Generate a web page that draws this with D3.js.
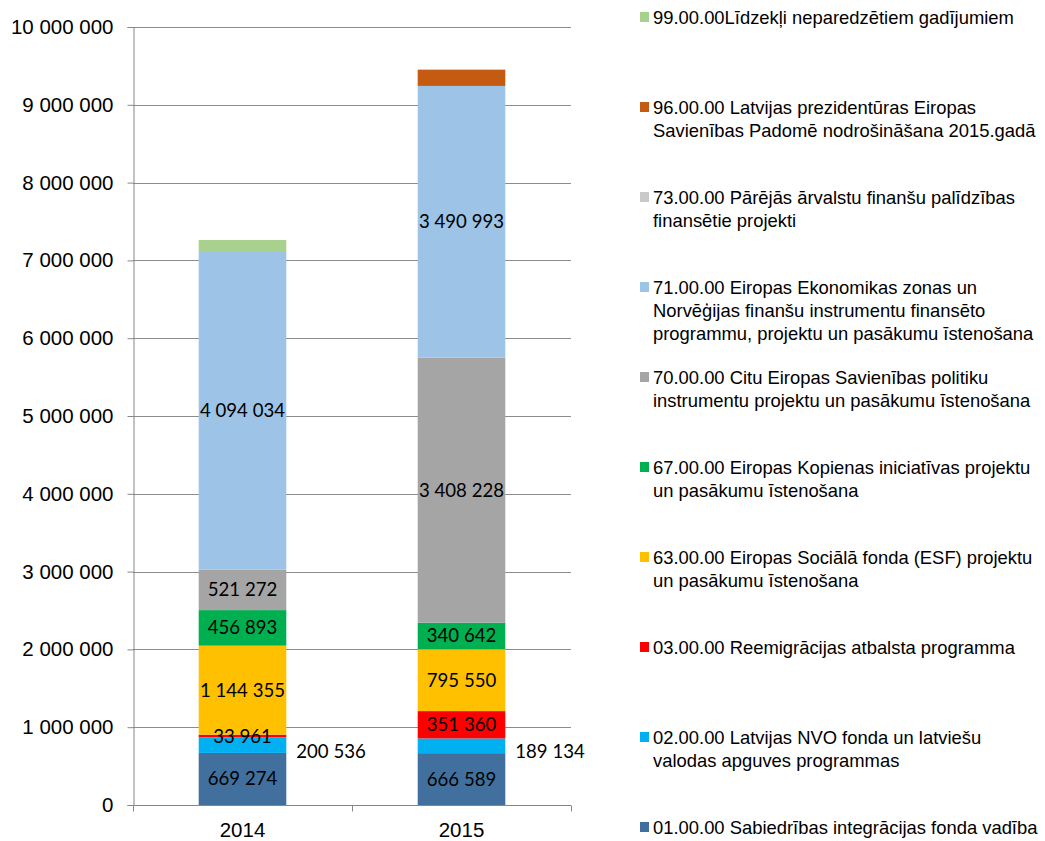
<!DOCTYPE html>
<html><head><meta charset="utf-8">
<script src="https://d3js.org/d3.v7.min.js"></script>
<style>body{margin:0;background:#fff}svg{display:block}</style>
</head><body><svg id="c" width="1045" height="841"></svg>
<script>
const years = ["2014", "2015"];
const seriesCodes = ["01", "02", "03", "63", "67", "70", "71", "73", "96", "99"];
const legendLines = [
  ["01.00.00 Sabiedrības integrācijas fonda vadība"],
  ["02.00.00 Latvijas NVO fonda un latviešu", "valodas apguves programmas"],
  ["03.00.00 Reemigrācijas atbalsta programma"],
  ["63.00.00 Eiropas Sociālā fonda (ESF) projektu", "un pasākumu īstenošana"],
  ["67.00.00 Eiropas Kopienas iniciatīvas projektu", "un pasākumu īstenošana"],
  ["70.00.00 Citu Eiropas Savienības politiku", "instrumentu projektu un pasākumu īstenošana"],
  ["71.00.00 Eiropas Ekonomikas zonas un", "Norvēģijas finanšu instrumentu finansēto", "programmu, projektu un pasākumu īstenošana"],
  ["73.00.00 Pārējās ārvalstu finanšu palīdzības", "finansētie projekti"],
  ["96.00.00 Latvijas prezidentūras Eiropas", "Savienības Padomē nodrošināšana 2015.gadā"],
  ["99.00.00Līdzekļi neparedzētiem gadījumiem"]
];
const values2014 = [669274, 200536, 33961, 1144355, 456893, 521272, 4094034, 0, 0, 142000];
const values2015 = [666589, 189134, 351360, 795550, 340642, 3408228, 3490993, 0, 205000, 10000];
const showLabel = [true, true, true, true, true, true, true, false, false, false];
const labelOutside = [false, true, false, false, false, false, false, false, false, false];
const colors = ["#41709E", "#00B0F0", "#FF0000", "#FFC000", "#00B050", "#A5A5A5", "#9DC3E6", "#C9C9C9", "#C55A11", "#A9D18E"];
const yTicks = [0, 1000000, 2000000, 3000000, 4000000, 5000000, 6000000, 7000000, 8000000, 9000000, 10000000];

const loc = d3.formatLocale({decimal: ",", thousands: " ", grouping: [3], currency: ["", ""]});
const fmt = loc.format(",d");

const svg = d3.select("#c");
const x0 = 133, x1 = 571, yTop = 27, yBot = 805;
const x = d3.scaleBand().domain(years).range([x0, x1]).paddingInner(0).paddingOuter(0);
const y = d3.scaleLinear().domain([0, 10000000]).range([yBot, yTop]);
const barW = x.bandwidth() * 0.4;

const rows = years.map((yr, i) => {
  const vals = i === 0 ? values2014 : values2015;
  const r = {year: yr};
  seriesCodes.forEach((c, j) => r[c] = vals[j]);
  return r;
});
const stack = d3.stack().keys(seriesCodes)(rows);

// gridlines
svg.append("g").selectAll("line").data(yTicks.slice(1)).join("line")
  .attr("x1", x0).attr("x2", x1)
  .attr("y1", d => Math.round(y(d)) + 0.5).attr("y2", d => Math.round(y(d)) + 0.5)
  .attr("stroke", "#8c8c8c").attr("stroke-width", 1);

// bars
const gBars = svg.append("g");
stack.forEach((layer, j) => {
  gBars.selectAll(null).data(layer).join("rect")
    .attr("x", d => x(d.data.year) + (x.bandwidth() - barW) / 2)
    .attr("width", barW)
    .attr("y", d => y(d[1]))
    .attr("height", d => Math.max(0, y(d[0]) - y(d[1])))
    .attr("fill", colors[j]);
});

// labels
const gLab = svg.append("g").attr("font-family", "Lato, 'Open Sans', sans-serif").attr("font-size", 18.6).attr("fill", "#000");
stack.forEach((layer, j) => {
  if (!showLabel[j]) return;
  layer.forEach(d => {
    const v = d[1] - d[0];
    if (v <= 0) return;
    const cx = x(d.data.year) + x.bandwidth() / 2;
    const cy = (y(d[0]) + y(d[1])) / 2;
    const t = gLab.append("text").text(fmt(v)).attr("dy", "0.35em");
    if (labelOutside[j]) {
      t.attr("x", cx + barW / 2 + 10).attr("y", cy + 6).attr("text-anchor", "start");
    } else {
      t.attr("x", cx).attr("y", cy).attr("text-anchor", "middle");
    }
  });
});

// y axis
const yAxis = d3.axisLeft(y).tickValues(yTicks).tickSize(6).tickPadding(14).tickFormat(d => fmt(d));
const gy = svg.append("g").attr("transform", `translate(${x0 + 0.5},0)`).call(yAxis);
gy.select(".domain").attr("stroke", "#868686");
gy.selectAll(".tick line").attr("stroke", "#868686");
gy.selectAll(".tick text").attr("font-family", "'Liberation Sans', Arial, sans-serif").attr("font-size", 20.5).attr("fill", "#000");

// x axis
const xAxis = d3.axisBottom(x).tickSize(0).tickPadding(17);
const gx = svg.append("g").attr("transform", `translate(0,${yBot + 0.5})`).call(xAxis);
gx.select(".domain").attr("stroke", "#868686").attr("d", `M${x0},0H${x1}`);
gx.selectAll(".tick text").attr("font-family", "'Liberation Sans', Arial, sans-serif").attr("font-size", 20.5).attr("fill", "#000");
gx.selectAll("line.sep").data([x0, x0 + x.bandwidth(), x1]).join("line").attr("class", "sep")
  .attr("x1", d => d + 0.5).attr("x2", d => d + 0.5).attr("y1", 0).attr("y2", 6).attr("stroke", "#868686");

// legend (top = last series)
const gLeg = svg.append("g").attr("font-family", "'Liberation Sans', Arial, sans-serif").attr("font-size", 18.4).attr("fill", "#000");
const order = d3.range(seriesCodes.length).reverse();
order.forEach((j, k) => {
  const cy = 17 + k * 90;
  const g = gLeg.append("g");
  g.append("rect").attr("x", 640).attr("y", cy - 5).attr("width", 9).attr("height", 10).attr("fill", colors[j]);
  legendLines[j].forEach((ln, li) => {
    g.append("text").attr("x", 653).attr("y", cy + 6.5 + li * 23).text(ln);
  });
});
</script>
</body></html>
